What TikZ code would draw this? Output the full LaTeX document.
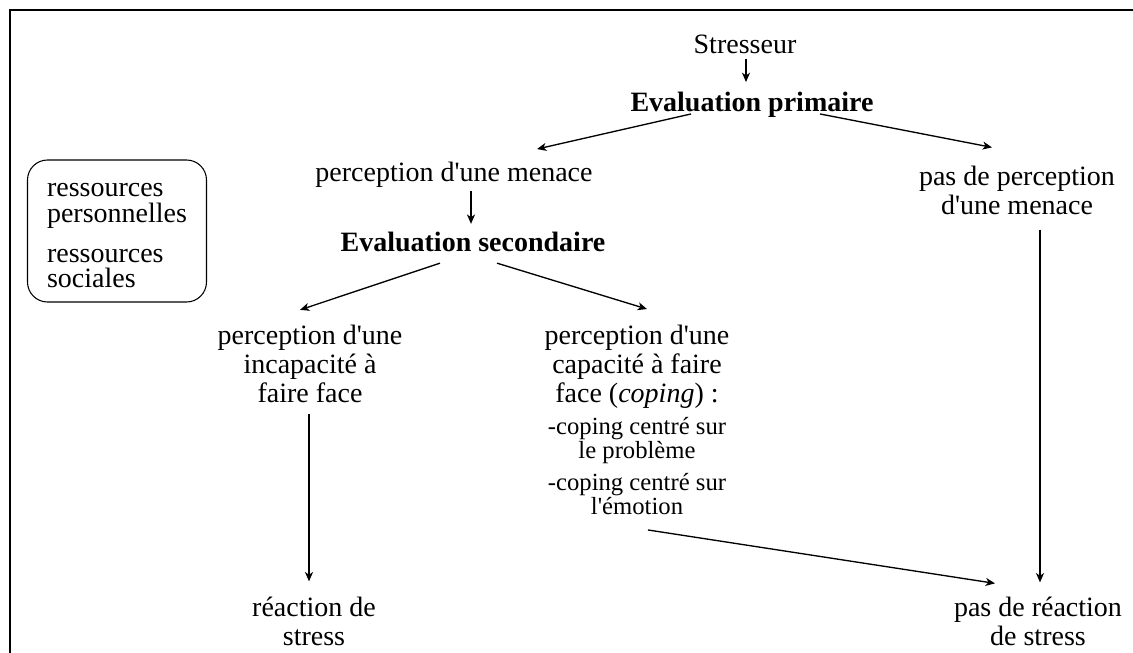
\documentclass[tikz,border=0pt]{standalone}
\usepackage{fontspec}
\setmainfont{Liberation Serif}[Ligatures=TeXOff]
\usetikzlibrary{arrows.meta}

\begin{document}
\begin{tikzpicture}[x=0.75pt, y=-0.75pt,
        lbl/.style={inner sep=0pt, align=center, font=\fontsize{21}{21.75}\selectfont},
        titre/.style={lbl, font=\fontsize{21}{21.75}\selectfont\bfseries},
        petit/.style={inner sep=0pt, align=center, font=\fontsize{18.5}{18}\selectfont},
        arr/.style={-{Stealth[length=7pt, width=6pt, inset=2pt]}, line width=1pt}]
            \useasboundingbox (0,0) rectangle (1133,653);

            % cadre (coupe a droite et en bas)
            \begin{scope}
                \clip (0,0) rectangle (1133,653);
                \draw[line width=1.6pt] (1150,10) -- (10,10) -- (10,670);
            \end{scope}

            \node[lbl] (stresseur) at (745,44) {Stresseur};
            \node[titre] (eprim) at (752,105) {Evaluation primaire};
            \node[lbl] (menace) at (454,175) {perception d'une menace};
            \node[lbl] (nomenace) at (1017,190) {pas de perception\\d'une menace};
            \node[titre] (esec) at (473,242) {Evaluation secondaire};

            \node[lbl] (incap) at (310,364) {perception d'une\\incapacité à\\faire face};
            \node[lbl] (cap) at (637,367) {perception d'une\\capacité à faire\\face (\textit{coping}) :};
            \node[petit] (probleme) at (637,441) {-coping centré sur\\le problème};
            \node[petit] (emotion) at (637,494) {-coping centré sur\\l'émotion};

            \node[lbl] (reaction) at (314,621) {réaction de\\stress};
            \node[lbl] (noreaction) at (1038,621) {pas de réaction\\de stress};

            \node[draw, line width=0.8pt, rounded corners=15pt, minimum width=179*0.75pt,
                  minimum height=142*0.75pt, inner sep=0pt, align=left,
                  font=\fontsize{21}{19}\selectfont] (ressources) at (117,231)
                  {\rule{0pt}{17pt}ressources\\personnelles\\[11pt]ressources\\sociales};

            \draw[arr] ([shift={(1,5)}]stresseur.south) -- ([shift={(-6,-10)}]eprim.north);
            \draw[arr] ([shift={(-61,-4)}]eprim.south) -- ([shift={(83,-13)}]menace.north);
            \draw[arr] ([shift={(68,-4)}]eprim.south) -- ([shift={(-25,-18)}]nomenace.north);
            \draw[arr] ([shift={(17,3)}]menace.south) -- ([shift={(-2,-8)}]esec.north);

            \draw[arr] ([shift={(-33,11)}]esec.south) -- ([shift={(-10,-15)}]incap.north);
            \draw[arr] ([shift={(24,11)}]esec.south) -- ([shift={(10,-16)}]cap.north);

            \draw[arr] ([shift={(-1,11)}]incap.south) -- ([shift={(-5,-15)}]reaction.north);
            \draw[arr] ([shift={(11,15)}]emotion.south) -- ([shift={(-43,-13)}]noreaction.north);
            \draw[arr] ([shift={(23,15)}]nomenace.south) -- ([shift={(2,-14)}]noreaction.north);

            %\node at (117,120) {ressources};
        \end{tikzpicture}
\end{document}
